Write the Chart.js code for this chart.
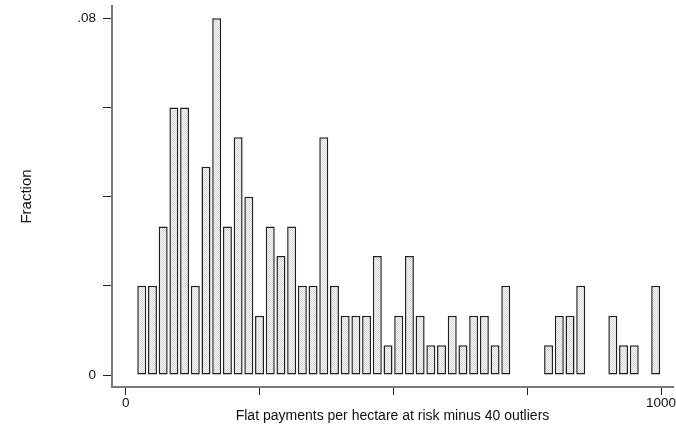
<!DOCTYPE html>
<html>
<head>
<meta charset="utf-8">
<script src="https://cdn.jsdelivr.net/npm/chart.js@4/dist/chart.umd.min.js"></script>
<style>
  html, body { margin: 0; padding: 0; background: #ffffff; }
  #wrap { width: 676px; height: 431px; position: relative; }
</style>
</head>
<body>
<div id="wrap"><canvas id="hist"></canvas></div>
<script>
// Histogram bins (width 20): midpoint of each non-empty bin
const binMid = [30, 50, 70, 90, 110, 130, 150, 170, 190, 210,
                230, 250, 270, 290, 310, 330, 350, 370, 390, 410,
                430, 450, 470, 490, 510, 530, 550, 570, 590, 610,
                630, 650, 670, 690, 710, 790, 810, 830, 850, 910,
                930, 950, 990];
// Fraction of observations falling in each bin
const fraction = [0.0200, 0.0200, 0.0333, 0.0600, 0.0600, 0.0200, 0.0467, 0.0800, 0.0333, 0.0533,
                  0.0400, 0.0133, 0.0333, 0.0267, 0.0333, 0.0200, 0.0200, 0.0533, 0.0200, 0.0133,
                  0.0133, 0.0133, 0.0267, 0.0067, 0.0133, 0.0267, 0.0133, 0.0067, 0.0067, 0.0133,
                  0.0067, 0.0133, 0.0133, 0.0067, 0.0200, 0.0067, 0.0133, 0.0133, 0.0200, 0.0133,
                  0.0067, 0.0067, 0.0200];
// Axis tick positions and the labels shown at them
const xTicks = [0, 250, 500, 750, 1000];
const xTickLabels = ['0', '', '', '', '1000'];
const yTicks = [0, 0.02, 0.04, 0.06, 0.08];
const yTickLabels = ['0', '', '', '', '.08'];

const xTitle = 'Flat payments per hectare at risk minus 40 outliers';
const yTitle = 'Fraction';

// Fine dotted fill for the bars
function dotPattern() {
  const c = document.createElement('canvas');
  c.width = 2; c.height = 2;
  const g = c.getContext('2d');
  g.fillStyle = '#fafafa';
  g.fillRect(0, 0, 2, 2);
  g.fillStyle = '#d4d4d4';
  g.fillRect(0, 0, 1, 1);
  g.fillRect(1, 1, 1, 1);
  return g.createPattern(c, 'repeat');
}

const FONT = "'Liberation Sans', Arial, Helvetica, sans-serif";
const INK = '#111111';

new Chart(document.getElementById('hist'), {
  type: 'bar',
  data: {
    datasets: [{
      data: binMid.map((x, i) => ({ x: x, y: fraction[i] })),
      backgroundColor: dotPattern(),
      borderColor: '#202020',
      borderWidth: 1.5,
      borderSkipped: false,
      categoryPercentage: 1.0,
      barPercentage: 0.84
    }]
  },
  options: {
    responsive: true,
    maintainAspectRatio: false,
    animation: false,
    events: [],
    layout: { padding: { top: 6, right: 3, left: 0, bottom: 0 } },
    plugins: { legend: { display: false }, tooltip: { enabled: false } },
    scales: {
      x: {
        type: 'linear',
        offset: false,
        min: -25.6,
        max: 1022.4,
        afterFit: s => { s.height = 44; s.paddingLeft = 0; s.paddingRight = 0; },
        afterBuildTicks: s => { s.ticks = xTicks.map(v => ({ value: v })); },
        ticks: {
          autoSkip: false,
          maxRotation: 0,
          padding: 0,
          color: INK,
          font: { family: FONT, size: 13.5 },
          callback: (v) => xTickLabels[xTicks.indexOf(v)] ?? ''
        },
        grid: {
          offset: false,
          drawOnChartArea: false,
          drawTicks: true,
          tickLength: 8,
          tickColor: '#222222',
          tickWidth: 1
        },
        border: { display: true, color: '#7a7a7a', width: 2 },
        title: {
          display: true,
          text: xTitle,
          color: INK,
          font: { family: FONT, size: 14 },
          padding: { top: 0, bottom: 6 }
        }
      },
      y: {
        type: 'linear',
        min: -0.00269,
        max: 0.08276,
        afterFit: s => { s.width = 112; s.paddingTop = 0; s.paddingBottom = 0; },
        afterBuildTicks: s => { s.ticks = yTicks.map(v => ({ value: v })); },
        ticks: {
          autoSkip: false,
          padding: 7,
          color: INK,
          font: { family: FONT, size: 13.5 },
          callback: (v) => yTickLabels[yTicks.indexOf(v)] ?? ''
        },
        grid: {
          drawOnChartArea: false,
          drawTicks: true,
          tickLength: 9,
          tickColor: '#222222',
          tickWidth: 1
        },
        border: { display: true, color: '#7a7a7a', width: 2 },
        title: {
          display: true,
          text: yTitle,
          color: INK,
          font: { family: FONT, size: 15 },
          padding: { top: 18, bottom: 0 }
        }
      }
    }
  }
});
</script>
</body>
</html>
